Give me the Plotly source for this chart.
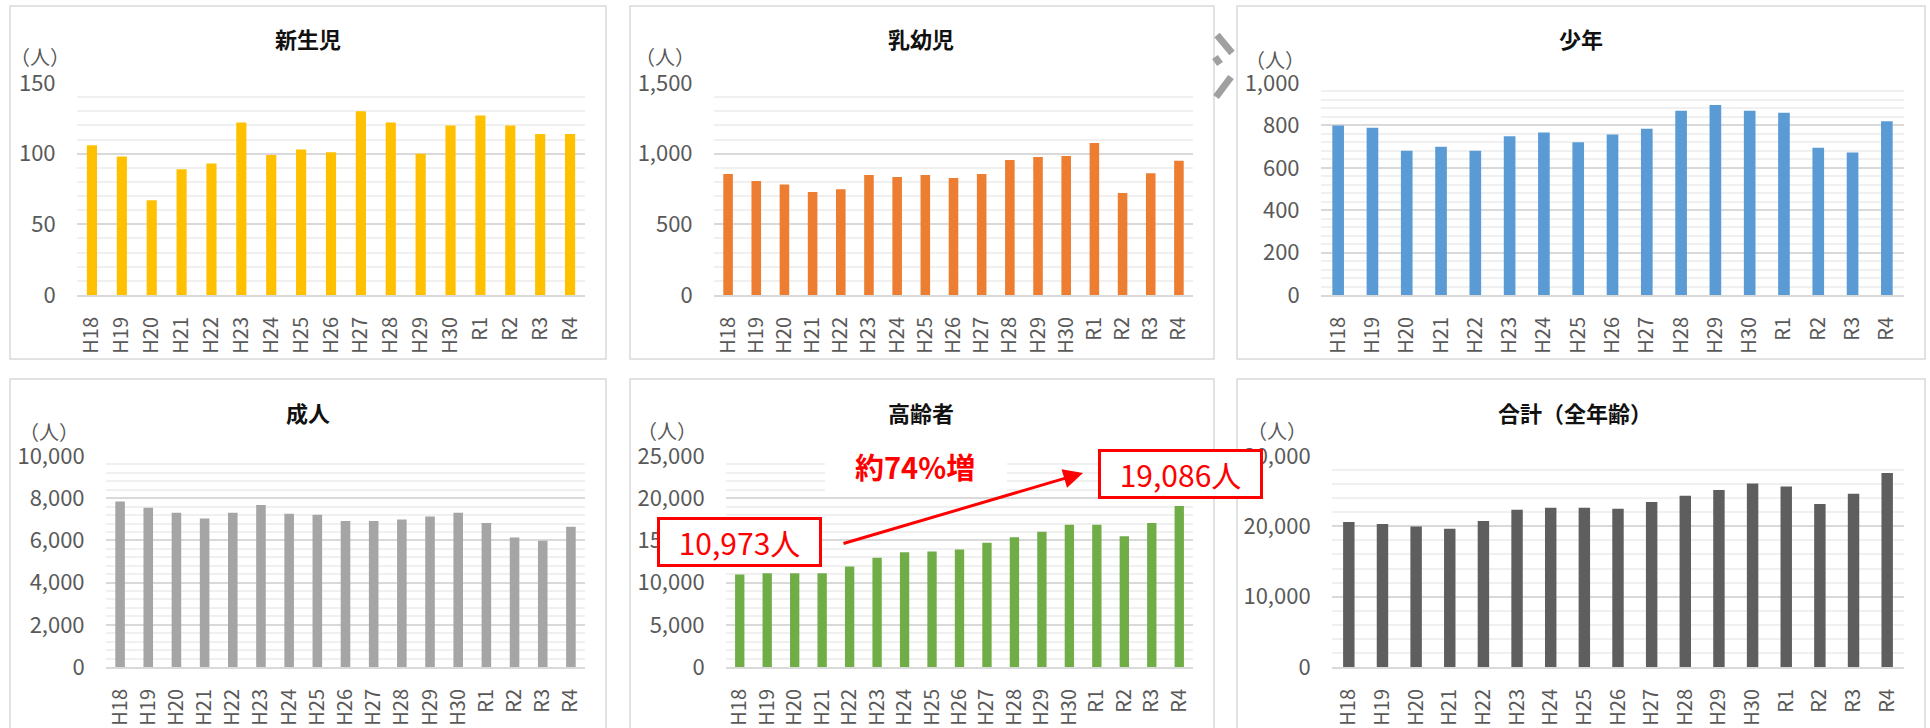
import plotly.graph_objects as go

# ---------------- data ----------------
years = ["H18", "H19", "H20", "H21", "H22", "H23", "H24", "H25", "H26",
         "H27", "H28", "H29", "H30", "R1", "R2", "R3", "R4"]
newborn = [106, 98, 67, 89, 93, 122, 99, 103, 101, 130, 122, 100, 120, 127, 120, 114, 114]
infant = [856, 807, 781, 729, 748, 849, 835, 849, 828, 856, 956, 977, 984, 1076, 722, 861, 949]
youth = [800, 789, 681, 699, 681, 749, 767, 721, 757, 784, 869, 896, 869, 860, 694, 672, 819]
adult = [7848, 7547, 7310, 7041, 7310, 7674, 7263, 7215, 6915, 6915, 6994, 7136, 7310,
         6820, 6139, 5981, 6646]
elderly = [10973, 11115, 11115, 11115, 11907, 12935, 13608, 13687, 13924, 14715, 15388,
           16020, 16851, 16851, 15506, 17049, 19086]
total = [20601, 20316, 19984, 19652, 20743, 22357, 22642, 22642, 22500, 23449, 24351,
         25158, 26107, 25680, 23164, 24636, 27579]

titles = ["新生児", "乳幼児", "少年", "成人", "高齢者", "合計（全年齢）"]
series = [newborn, infant, youth, adult, elderly, total]
colors = ["#FFC000", "#ED7D31", "#5B9BD5", "#A5A5A5", "#70AD47", "#5E5E5E"]
ymax = [150, 1500, 1000, 10000, 25000, 30000]
major = [50, 500, 200, 2000, 5000, 10000]
minor = [10, 100, 40, 400, 1000, 2000]
unit_label = "（人）"
growth_label = "約74%増"

# ---------------- layout geometry (pixels) ----------------
W, H = 1930, 728
# plot areas: x0, x1, ytop, ybottom
areas = [(77, 585, 83, 295), (714, 1193, 83, 295), (1321, 1904, 83, 295),
         (106, 585, 456, 667), (726, 1193, 456, 667), (1332, 1904, 456, 667)]
title_pos = [(308, 38), (921, 38), (1581, 38), (308, 412), (921, 412), (1575, 412)]
unit_pos = [(40, 57), (665, 57), (1275, 59), (49, 431), (667, 430), (1277, 430)]
borders = [(10, 606, 6, 359), (630, 1214, 6, 359), (1237, 1925, 6, 359),
           (10, 606, 379, 760), (630, 1214, 379, 760), (1237, 1925, 379, 760)]

FONT = "Noto Sans CJK JP"
TXT = "#595959"


def px(x):
    return x / W


def py(y):
    return 1 - y / H


fig = go.Figure()
layout = dict(
    width=W, height=H, margin=dict(l=0, r=0, t=0, b=0, pad=0, autoexpand=False),
    paper_bgcolor="white", plot_bgcolor="white",
    showlegend=False, bargap=0.66,
    font=dict(family=FONT, color=TXT, size=20),
)
annotations = []
shapes = []

for i in range(6):
    sfx = "" if i == 0 else str(i + 1)
    fig.add_trace(go.Bar(x=years, y=series[i], marker=dict(color=colors[i], line=dict(width=0)),
                         xaxis="x" + sfx, yaxis="y" + sfx, hoverinfo="x+y"))
    x0, x1, yt, yb = areas[i]
    layout["xaxis" + sfx] = dict(
        domain=[px(x0), px(x1)], anchor="y" + sfx, type="category", automargin=False,
        tickangle=-90, ticks="outside", ticklen=12, tickcolor="rgba(0,0,0,0)",
        showline=True, linecolor="#D9D9D9", linewidth=2, showgrid=False,
        tickfont=dict(family=FONT, size=20, color=TXT), fixedrange=True,
    )
    layout["yaxis" + sfx] = dict(
        domain=[py(yb), py(yt)], anchor="x" + sfx, range=[0, ymax[i]], automargin=False,
        tickmode="linear", tick0=0, dtick=major[i], tickformat=",d",
        showgrid=True, gridcolor="#D9D9D9", gridwidth=2,
        minor=dict(dtick=minor[i], showgrid=True, gridcolor="#F0F0F0", gridwidth=2),
        zeroline=False, showline=False,
        ticks="outside", ticklen=16, tickcolor="rgba(0,0,0,0)",
        tickfont=dict(family=FONT, size=22, color=TXT), fixedrange=True,
    )
    bx0, bx1, by0, by1 = borders[i]
    shapes.append(dict(type="rect", xref="paper", yref="paper",
                       x0=px(bx0), x1=px(bx1), y0=py(by1), y1=py(by0),
                       line=dict(color="#D9D9D9", width=1.5), fillcolor="rgba(0,0,0,0)",
                       layer="below"))
    tx, ty = title_pos[i]
    annotations.append(dict(xref="paper", yref="paper", x=px(tx), y=py(ty),
                            xanchor="center", yanchor="middle", showarrow=False,
                            text="<b>" + titles[i] + "</b>",
                            font=dict(family=FONT, size=22, color="#111111")))
    ux, uy = unit_pos[i]
    annotations.append(dict(xref="paper", yref="paper", x=px(ux), y=py(uy),
                            xanchor="center", yanchor="middle", showarrow=False,
                            text=unit_label, font=dict(family=FONT, size=20, color=TXT)))

# decorative chevron between top panels
for (a, b, c, d) in [(1217, 35, 1232, 53), (1215, 57, 1220, 64), (1231, 77, 1216, 97)]:
    shapes.append(dict(type="line", xref="paper", yref="paper",
                       x0=px(a), y0=py(b), x1=px(c), y1=py(d),
                       line=dict(color="#A0A0A0", width=7), layer="below"))

# white background behind growth label
shapes.append(dict(type="rect", xref="paper", yref="paper",
                   x0=px(825), x1=px(1007), y0=py(497), y1=py(451),
                   line=dict(width=0), fillcolor="white", layer="above"))

# arrow
annotations.append(dict(xref="paper", yref="paper", x=px(1083), y=py(473),
                        ax=842 - 1083, ay=544 - 473, axref="pixel", ayref="pixel",
                        text="", showarrow=True, arrowhead=2, arrowsize=1.3,
                        arrowwidth=3, arrowcolor="#FF0000", standoff=0, startstandoff=0))
annotations.append(dict(xref="paper", yref="paper", x=px(915), y=py(466),
                        xanchor="center", yanchor="middle", showarrow=False,
                        text="<b>" + growth_label + "</b>",
                        font=dict(family=FONT, size=29, color="#FF0000")))
# value boxes
for val, (cx, cy) in [(elderly[0], (739.5, 541.5)), (elderly[-1], (1180.5, 474))]:
    annotations.append(dict(xref="paper", yref="paper", x=px(cx), y=py(cy),
                            xanchor="center", yanchor="middle", showarrow=False,
                            text=f"{val:,}人", width=159, height=44,
                            bgcolor="white", bordercolor="#FF0000", borderwidth=3, borderpad=0,
                            font=dict(family=FONT, size=30, color="#FF0000")))

layout["annotations"] = annotations
layout["shapes"] = shapes
fig.update_layout(**layout)

fig.write_html("out.html", config={"displayModeBar": False},
               post_script="document.body.style.margin='0';document.body.style.overflow='hidden';")
